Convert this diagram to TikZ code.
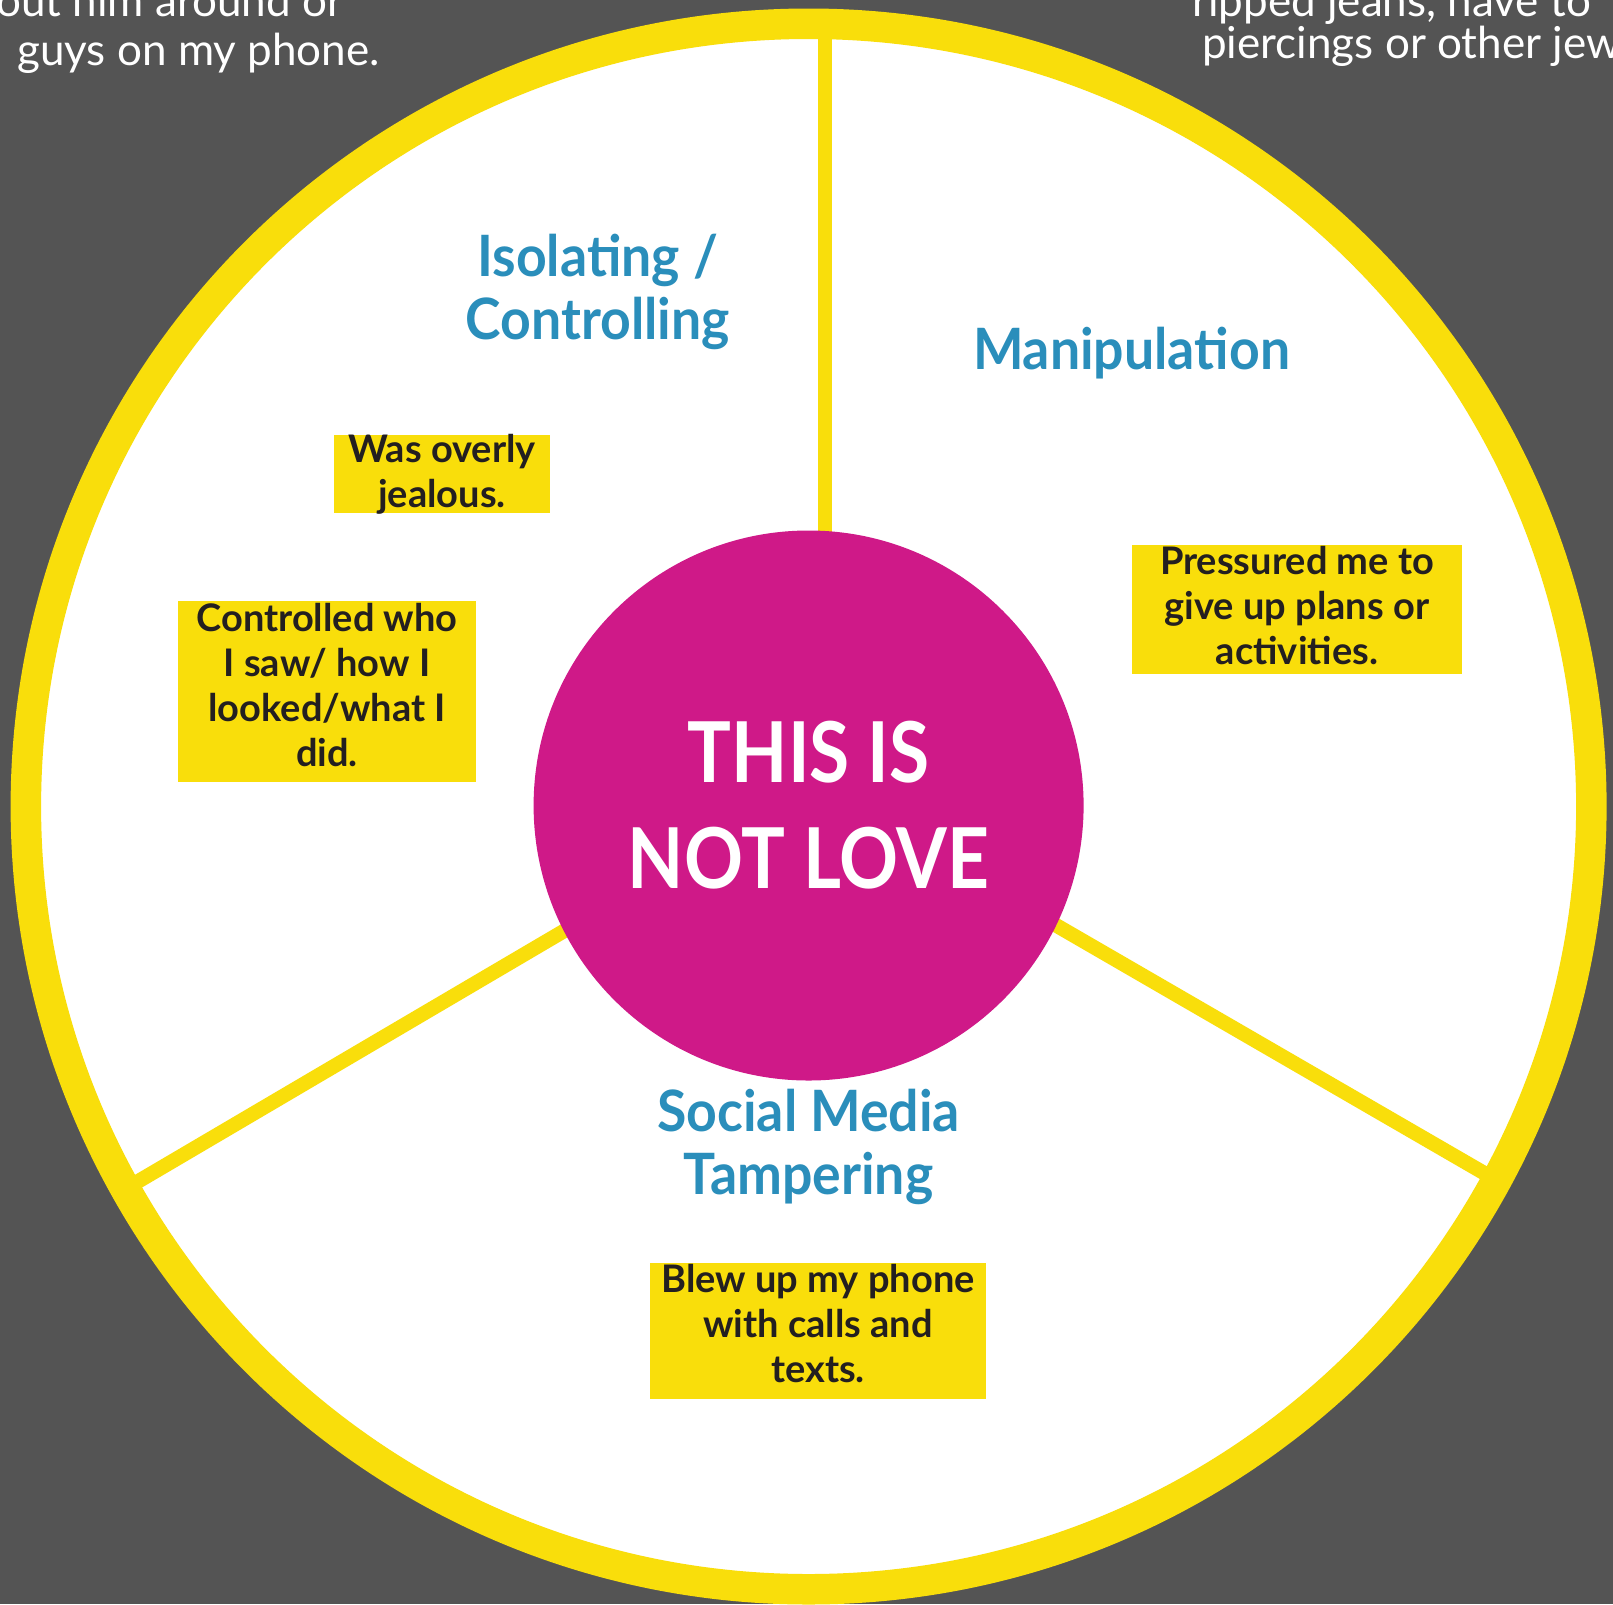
\documentclass[tikz,border=0pt]{standalone}
\usepackage{fontspec}
\setmainfont{Lato}
\newfontfamily\hubfont[FakeStretch=0.87]{Lato}
\newfontfamily\headfont[FakeStretch=0.94]{Lato}
\definecolor{bgc}{HTML}{545454}
\definecolor{ringc}{HTML}{F9DE0B}
\definecolor{hubc}{HTML}{CF1988}
\definecolor{headc}{HTML}{2A8EBB}
\definecolor{inkc}{HTML}{231F20}
\begin{document}
\begin{tikzpicture}[x=1pt,y=-1pt,
  spoke/.style={draw=ringc,line width=14.5pt},
  hub/.style={circle,fill=hubc,minimum size=550pt,inner sep=0pt,text=white,align=center,
    font=\hubfont\bfseries\fontsize{84}{106}\selectfont},
  head/.style={text=headc,align=center,inner sep=0pt,font=\headfont\bfseries\fontsize{57}{63}\selectfont},
  notebox/.style={fill=ringc,inner sep=0pt,draw=none},
  notetext/.style={text=inkc,align=center,inner sep=0pt,font=\bfseries\fontsize{38}{45}\selectfont},
  hand/.style={text=white,inner sep=0pt,font=\fontsize{44}{48}\selectfont}]
\useasboundingbox (0,0) rectangle (1613,1604);
\clip (0,0) rectangle (1613,1604);
\fill[bgc] (0,0) rectangle (1613,1604);
% handwritten notes (cut by the edges of the picture)
\node[hand,anchor=base west] (h1) at (-4,16) {out him around or};
\node[hand,anchor=base west] (h2) at (17,65) {guys on my phone.};
\node[hand,anchor=base west] (h3) at (1192,16) {ripped jeans, have to};
\node[hand,anchor=base west] (h4) at (1202,58) {piercings or other jewelry};
% wheel
\fill[white] (808.6,806.5) circle (768pt);
\coordinate (vtop) at (825,28);
\coordinate (vbot) at (825,600);
\coordinate (llout) at (126,1188.5);
\coordinate (llin) at (691.5,856);
\coordinate (lrout) at (1496.8,1180.4);
\coordinate (lrin) at (929.5,852);
\draw[spoke] (vbot) -- (vtop);
\draw[spoke] (llin) -- (llout);
\draw[spoke] (lrin) -- (lrout);
\draw[ringc,line width=30.5pt] (808.6,806.5) circle (782.75pt);
\node[hub] (hub) at (808.6,805.5) {THIS IS\\NOT LOVE};
% headings
\node[head] (iso) at (597.7,292) {Isolating /\\Controlling};
\node[head] (man) at (1131.6,353) {Manipulation};
\node[head] (soc) at (808.6,1147) {Social Media\\Tampering};
% note boxes
\node[notebox,minimum width=216pt,minimum height=78pt] (b1) at (442,474) {};
\node[notetext] (t1) at (442,474) {Was overly\\jealous.};
\node[notebox,minimum width=298pt,minimum height=181pt] (b2) at (327,691.5) {};
\node[notetext] (t2) at (327,685) {Controlled who\\I saw/ how I\\looked/what I\\did.};
\node[notebox,minimum width=330.5pt,minimum height=129pt] (b3) at (1297,609.5) {};
\node[notetext] (t3) at (1297,606) {Pressured me to\\give up plans or\\activities.};
\node[notebox,minimum width=335.5pt,minimum height=136pt] (b4) at (818,1331) {};
\node[notetext] (t4) at (818,1324) {Blew up my phone\\with calls and\\texts.};
\end{tikzpicture}
\end{document}
